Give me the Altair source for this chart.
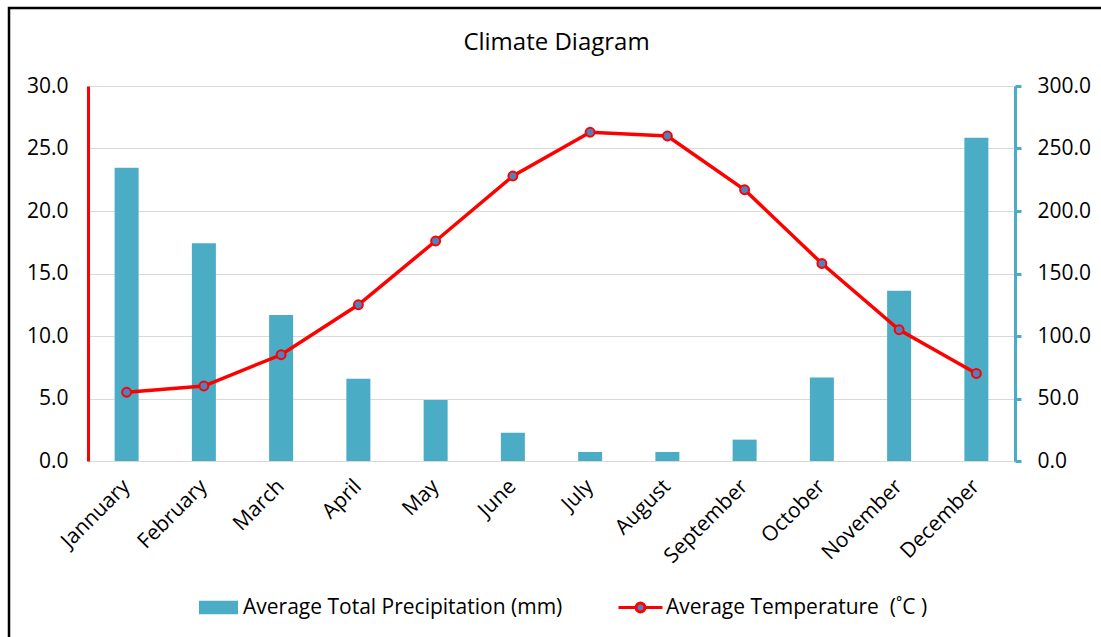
import altair as alt
import pandas as pd

# Monthly climate normals
months = ["Jannuary", "February", "March", "April", "May", "June",
          "July", "August", "September", "October", "November", "December"]
precipitation = [234.6, 174.2, 116.8, 65.9, 48.8, 22.6, 7.2, 7.2, 17.1, 66.9, 136.3, 258.7]
temperature = [5.5, 6.0, 8.5, 12.5, 17.6, 22.8, 26.3, 26.0, 21.7, 15.8, 10.5, 7.0]

PRECIP_LABEL = "Average Total Precipitation (mm)"
TEMP_LABEL = "Average Temperature\u00a0\u00a0(\u02daC )"

BAR_COLOR = "#4BACC6"
LINE_COLOR = "#FF0000"
MARKER_FILL = "#4F81BD"
GRID = "#D9D9D9"
FONT = "Open Sans"

W, H = 927, 375
PAD = {"left": 88, "top": 86, "right": 1101 - 88 - W, "bottom": 637 - 86 - H}

df = pd.DataFrame({
    "month": months,
    "precip": precipitation,
    "temp": temperature,
    "p_series": PRECIP_LABEL,
    "t_series": TEMP_LABEL,
})

x_enc = alt.X(
    "month:N", sort=months, title=None,
    scale=alt.Scale(paddingInner=0, paddingOuter=0),
    axis=alt.Axis(labelAngle=-45, labelAlign="right", labelBaseline="middle",
                  labelPadding=22, ticks=False, domainColor=GRID, domainWidth=1,
                  labelFont=FONT, labelFontSize=21, labelColor="black", grid=False),
)

bars = alt.Chart(df).mark_bar(size=24).encode(
    x=x_enc,
    y=alt.Y("precip:Q", title=None,
            scale=alt.Scale(domain=[0, 300], nice=False),
            axis=alt.Axis(orient="right", values=[0, 50, 100, 150, 200, 250, 300],
                          format=".1f", grid=False, domainColor=BAR_COLOR,
                          domainWidth=3, tickColor=BAR_COLOR, tickWidth=3,
                          tickSize=6, labelPadding=16, labelFont=FONT,
                          labelFontSize=21, labelColor="black")),
    fill=alt.Fill("p_series:N",
                  scale=alt.Scale(domain=[PRECIP_LABEL], range=[BAR_COLOR]),
                  legend=alt.Legend(title=None, orient="none", legendX=110, legendY=501,
                                    symbolType="M-1,-0.34H1V0.34H-1Z", symbolSize=1521,
                                    labelFont=FONT, labelFontSize=21, labelColor="black",
                                    labelOffset=4, labelLimit=500)),
)

temp_y = alt.Y("temp:Q", title=None,
               scale=alt.Scale(domain=[0, 30], nice=False),
               axis=alt.Axis(orient="left", values=[0, 5, 10, 15, 20, 25, 30],
                             format=".1f", grid=True, gridColor=GRID, gridWidth=1,
                             domainColor=LINE_COLOR, domainWidth=3, ticks=False,
                             labelPadding=20, labelFont=FONT, labelFontSize=21,
                             labelColor="black"))

line = alt.Chart(df).mark_line(color=LINE_COLOR, strokeWidth=3.5).encode(
    x=x_enc, y=temp_y,
)

points = alt.Chart(df).mark_point(filled=True, fill=MARKER_FILL, size=80,
                                  strokeWidth=2, opacity=1).encode(
    x=x_enc, y=temp_y,
    stroke=alt.Stroke("t_series:N",
                      scale=alt.Scale(domain=[TEMP_LABEL], range=[LINE_COLOR]),
                      legend=alt.Legend(title=None, orient="none", legendX=529, legendY=498,
                                        symbolType="M-1,0H-0.2A0.2,0.2 0 1,1 0.2,0A0.2,0.2 0 1,1 -0.2,0M0.2,0H1",
                                        symbolSize=1936, symbolStrokeWidth=3,
                                        labelFont=FONT, labelFontSize=21,
                                        labelColor="black", labelOffset=2,
                                        labelLimit=500)),
)

# outer border of the figure
frame = alt.Chart(alt.Data(values=[{}])).mark_rect(
    fillOpacity=0, stroke="black", strokeWidth=2.5
).encode(
    x=alt.value(9 - 88), x2=alt.value(1200), y=alt.value(8 - 86), y2=alt.value(700),
)

temps = alt.layer(line, points)

# the border rect sets the top of the content bounds, so the title
# is pulled back down with a negative offset
chart = alt.layer(bars, temps, frame).resolve_scale(y="independent").properties(
    width=W, height=H,
    title=alt.TitleParams("Climate Diagram", font=FONT, fontSize=24, fontWeight="normal",
                          color="black", anchor="middle", frame="group", offset=-48, dx=5),
    autosize=alt.AutoSizeParams(type="none"),
    padding=PAD,
    background="white",
).configure_view(stroke=None)

chart.save("out.html", embed_options={"renderer": "svg", "actions": False})
